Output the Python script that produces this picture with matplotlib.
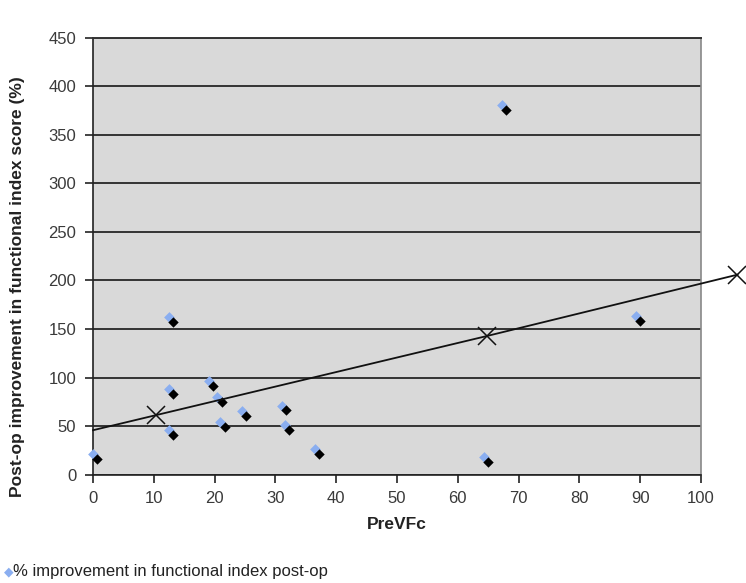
import matplotlib.pyplot as plt
from matplotlib.transforms import ScaledTranslation

plt.rcParams['font.family'] = ['Liberation Sans', 'DejaVu Sans']

# % improvement vs PreVFc
prevfc = [0, 12.5, 12.5, 12.5, 19, 20.4, 20.9, 24.5, 31, 31.5, 36.5, 64.3, 67.2, 89.3]
improvement = [21, 162, 88, 46, 96, 80, 54, 65, 71, 51, 26, 18, 381, 163]

# trend line (with its x markers)
trend_x = [0, 10.4, 64.8, 106]
trend_y = [45.7, 61.3, 142.8, 206]
trend_marks = [1, 2, 3]

yticks = list(range(0, 451, 50))
xticks = list(range(0, 101, 10))

fig = plt.figure(figsize=(7.46, 5.83), dpi=100, facecolor='white')
ax = fig.add_axes([0.1247, 0.186, 0.815, 0.749])
ax.set_facecolor('#d9d9d9')

ax.set_xlim(0, 100)
ax.set_ylim(0, 450)
ax.set_yticks(yticks)
ax.set_xticks(xticks)
ax.grid(axis='y', color='#333333', linewidth=1.4)
ax.set_axisbelow(True)

for s in ['left', 'bottom']:
    ax.spines[s].set_color('#222222')
    ax.spines[s].set_linewidth(1.2)
ax.spines['top'].set_color('#333333')
ax.spines['top'].set_linewidth(1.4)
ax.spines['right'].set_color('#888888')
ax.spines['right'].set_linewidth(1.2)

ax.tick_params(axis='both', direction='out', length=6, width=1.2, color='#222222',
               labelsize=12, labelcolor='#3a3a3a', pad=6)

# black shadow diamond under-right of each blue diamond
shadow = ax.transData + ScaledTranslation(3.2 / 72, -3.4 / 72, fig.dpi_scale_trans)
ax.scatter(prevfc, improvement, marker='D', s=30, color='#8aaef0', linewidths=0,
           zorder=3, clip_on=False)
ax.scatter(prevfc, improvement, marker='D', s=28, color='black', linewidths=0,
           zorder=4, clip_on=False, transform=shadow)

ax.plot(trend_x, trend_y, color='#111111', linewidth=1.3, clip_on=False, zorder=5,
        marker='x', markersize=13, markeredgewidth=1.1, markevery=trend_marks)

ax.set_xlabel('PreVFc', fontsize=12.5, fontweight='bold', color='#222222', labelpad=8)
ax.set_ylabel('Post-op improvement in functional index score (%)', fontsize=12.5,
              fontweight='bold', color='#222222', labelpad=6)
ax.yaxis.set_label_coords(-0.112, 0.43)

fig.text(0.005, 0.019, '\u25c6', fontsize=9, color='#8aaef0', va='center')
fig.text(0.018, 0.019, '% improvement in functional index post-op', fontsize=12,
         color='#222222', va='center')

fig.savefig('out.png', dpi=100)
